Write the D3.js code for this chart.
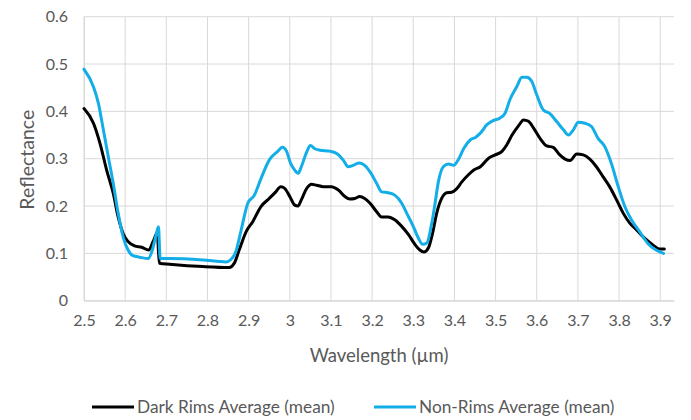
<!DOCTYPE html>
<html>
<head>
<meta charset="utf-8">
<script src="https://cdn.jsdelivr.net/npm/d3@7"></script>
<style>
  html, body { margin: 0; padding: 0; background: #fff; }
  svg { display: block; }
  text { font-family: Lato, "Open Sans", sans-serif; fill: #595959; }
</style>
</head>
<body>
<svg id="chart" width="691" height="420"></svg>
<script>
// Wavelength (µm) and mean reflectance for the two spectra
const darkRims = [
  [2.500,0.406],[2.523,0.375],[2.539,0.332],[2.555,0.276],[2.571,0.227],[2.583,0.177],
  [2.595,0.142],[2.607,0.125],[2.623,0.116],[2.640,0.113],[2.657,0.107],[2.668,0.125],
  [2.678,0.143],[2.683,0.079],[2.708,0.077],[2.789,0.072],[2.853,0.070],[2.865,0.079],
  [2.877,0.107],[2.894,0.146],[2.910,0.167],[2.930,0.199],[2.950,0.216],[2.966,0.230],
  [2.978,0.241],[2.988,0.237],[3.000,0.220],[3.012,0.202],[3.020,0.200],[3.028,0.213],
  [3.041,0.237],[3.053,0.246],[3.065,0.244],[3.081,0.241],[3.101,0.241],[3.118,0.234],
  [3.134,0.220],[3.146,0.215],[3.158,0.216],[3.170,0.220],[3.182,0.216],[3.195,0.206],
  [3.211,0.188],[3.223,0.177],[3.239,0.177],[3.255,0.171],[3.272,0.157],[3.288,0.140],
  [3.304,0.119],[3.316,0.107],[3.326,0.103],[3.337,0.112],[3.347,0.143],[3.357,0.185],
  [3.369,0.216],[3.381,0.228],[3.393,0.229],[3.406,0.237],[3.418,0.251],[3.434,0.266],
  [3.447,0.276],[3.463,0.283],[3.483,0.301],[3.499,0.308],[3.515,0.315],[3.527,0.329],
  [3.540,0.350],[3.556,0.370],[3.568,0.382],[3.580,0.379],[3.592,0.365],[3.608,0.343],
  [3.624,0.327],[3.640,0.324],[3.656,0.308],[3.669,0.299],[3.681,0.296],[3.697,0.310],
  [3.713,0.308],[3.729,0.299],[3.745,0.283],[3.761,0.262],[3.777,0.241],[3.794,0.213],
  [3.810,0.185],[3.826,0.164],[3.842,0.150],[3.862,0.132],[3.882,0.118],[3.898,0.109],
  [3.910,0.109]
];

const nonRims = [
  [2.500,0.489],[2.523,0.452],[2.535,0.417],[2.547,0.361],[2.559,0.304],[2.571,0.248],
  [2.583,0.185],[2.595,0.135],[2.607,0.107],[2.619,0.095],[2.635,0.092],[2.656,0.089],
  [2.666,0.107],[2.674,0.135],[2.681,0.156],[2.685,0.089],[2.708,0.089],[2.789,0.086],
  [2.845,0.082],[2.857,0.087],[2.869,0.104],[2.881,0.146],[2.898,0.206],[2.914,0.223],
  [2.930,0.258],[2.950,0.297],[2.970,0.315],[2.982,0.324],[2.992,0.316],[3.002,0.290],
  [3.012,0.276],[3.020,0.269],[3.028,0.283],[3.041,0.314],[3.050,0.328],[3.061,0.321],
  [3.073,0.318],[3.097,0.316],[3.114,0.311],[3.130,0.297],[3.142,0.283],[3.154,0.286],
  [3.169,0.291],[3.182,0.286],[3.195,0.272],[3.211,0.248],[3.223,0.230],[3.239,0.228],
  [3.255,0.223],[3.272,0.206],[3.284,0.185],[3.300,0.157],[3.312,0.133],[3.323,0.119],
  [3.333,0.122],[3.345,0.164],[3.353,0.206],[3.361,0.251],[3.373,0.283],[3.386,0.289],
  [3.398,0.286],[3.410,0.299],[3.423,0.322],[3.439,0.340],[3.451,0.345],[3.463,0.354],
  [3.479,0.372],[3.495,0.381],[3.511,0.386],[3.523,0.396],[3.535,0.425],[3.552,0.453],
  [3.564,0.472],[3.576,0.472],[3.588,0.463],[3.600,0.435],[3.616,0.403],[3.632,0.395],
  [3.648,0.379],[3.665,0.361],[3.677,0.350],[3.689,0.361],[3.701,0.377],[3.717,0.375],
  [3.733,0.368],[3.749,0.343],[3.765,0.326],[3.781,0.291],[3.798,0.241],[3.814,0.199],
  [3.830,0.171],[3.850,0.146],[3.870,0.121],[3.890,0.107],[3.908,0.100]
];

const xTicks = [2.5, 2.6, 2.7, 2.8, 2.9, 3, 3.1, 3.2, 3.3, 3.4, 3.5, 3.6, 3.7, 3.8, 3.9];
const yTicks = [0, 0.1, 0.2, 0.3, 0.4, 0.5, 0.6];

const seriesNames = ["Dark Rims Average (mean)", "Non-Rims Average (mean)"];
const seriesColors = ["#000000", "#13aee8"];

const svg = d3.select("#chart");
const plot = { left: 84, right: 674, top: 16.7, bottom: 300.7 };

const x = d3.scaleLinear().domain([2.5, 3.9335]).range([plot.left, plot.right]);
const y = d3.scaleLinear().domain([0, 0.6]).range([plot.bottom, plot.top]);

// Gridlines
const grid = svg.append("g");
grid.selectAll("line.v").data(xTicks).join("line")
  .attr("x1", d => x(d)).attr("x2", d => x(d))
  .attr("y1", plot.top).attr("y2", plot.bottom)
  .attr("stroke", "#d9d9d9").attr("stroke-width", 1);
grid.selectAll("line.h").data(yTicks).join("line")
  .attr("x1", plot.left).attr("x2", plot.right)
  .attr("y1", d => y(d)).attr("y2", d => y(d))
  .attr("stroke", "#d9d9d9").attr("stroke-width", 1);

// Axes (labels only; the lines are the grid)
const fmt = d => d3.format("~g")(d);
const xAxis = svg.append("g")
  .attr("transform", `translate(0,${plot.bottom})`)
  .call(d3.axisBottom(x).tickValues(xTicks).tickFormat(fmt).tickSize(0).tickPadding(14));
const yAxis = svg.append("g")
  .attr("transform", `translate(${plot.left},0)`)
  .call(d3.axisLeft(y).tickValues(yTicks).tickFormat(fmt).tickSize(0).tickPadding(16));
[xAxis, yAxis].forEach(g => {
  g.select(".domain").attr("stroke", "#d9d9d9");
  g.selectAll("text").attr("font-size", 16).attr("fill", "#595959")
    .attr("font-family", "Lato, 'Open Sans', sans-serif");
});

// Axis titles
svg.append("text")
  .attr("x", (plot.left + plot.right) / 2).attr("y", 362)
  .attr("text-anchor", "middle").attr("font-size", 18.5)
  .text("Wavelength (µm)");
svg.append("text")
  .attr("transform", `translate(34,${(plot.top + plot.bottom) / 2 + 1}) rotate(-90)`)
  .attr("text-anchor", "middle").attr("font-size", 19.5)
  .text("Reflectance");

// Spectra
const line = d3.line().x(d => x(d[0])).y(d => y(d[1])).curve(d3.curveMonotoneX);
[darkRims, nonRims].forEach((data, i) => {
  svg.append("path").datum(data)
    .attr("d", line)
    .attr("fill", "none")
    .attr("stroke", seriesColors[i])
    .attr("stroke-width", 3)
    .attr("stroke-linejoin", "round")
    .attr("stroke-linecap", "round");
});

// Legend
const legendX = [92, 374];
const legend = svg.append("g");
seriesNames.forEach((name, i) => {
  const g = legend.append("g").attr("transform", `translate(${legendX[i]},407)`);
  g.append("line").attr("x1", 0).attr("x2", 42).attr("y1", 0).attr("y2", 0)
    .attr("stroke", seriesColors[i]).attr("stroke-width", 3);
  g.append("text").attr("x", 45).attr("y", 6).attr("font-size", 17.3).text(name);
});
</script>
</body>
</html>
